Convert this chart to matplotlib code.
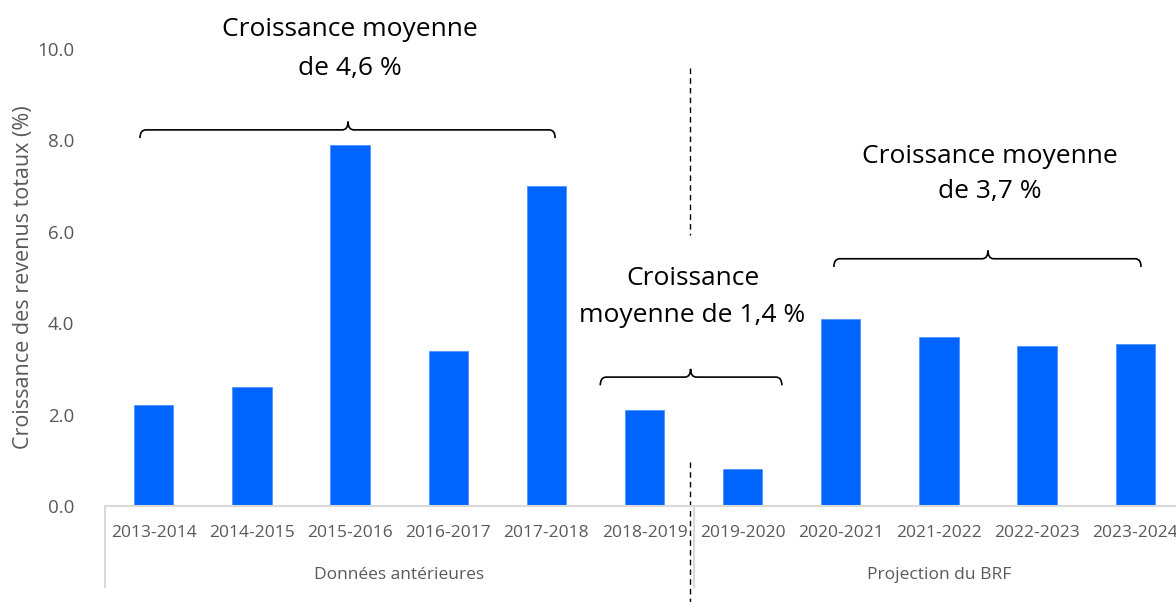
import numpy as np
import matplotlib.pyplot as plt
from matplotlib.path import Path
from matplotlib.patches import PathPatch

plt.rcParams['font.family'] = ['Open Sans', 'DejaVu Sans']

periods = ['2013-2014', '2014-2015', '2015-2016', '2016-2017', '2017-2018', '2018-2019',
           '2019-2020', '2020-2021', '2021-2022', '2022-2023', '2023-2024']
growth = [2.2, 2.6, 7.9, 3.4, 7.0, 2.1, 0.8, 4.1, 3.7, 3.5, 3.55]
groups = ['Données antérieures', 'Projection du BRF']
notes = ['Croissance moyenne\nde 4,6 %', 'Croissance\nmoyenne de 1,4 %', 'Croissance moyenne\nde 3,7 %']

grey = '#595959'
fig = plt.figure(figsize=(11.76, 6.02), dpi=100)
ax = fig.add_axes([0.089, 0.1595, 0.918, 0.7591])

x = np.arange(len(periods))
ax.bar(x, growth, 0.4, color='#0064FF', edgecolor='#4d94ff', linewidth=0.6, zorder=2)

ax.set_xlim(-0.5, 10.5)
ax.set_ylim(0, 10)
ax.set_yticks(np.arange(0, 10.1, 2))
ax.set_yticklabels(['%.1f' % v for v in np.arange(0, 10.1, 2)])
ax.set_xticks(x)
ax.set_xticklabels(periods)
ax.tick_params(axis='x', length=0, labelsize=12.5, labelcolor=grey, pad=14)
ax.tick_params(axis='y', length=0, labelsize=13.5, labelcolor=grey, pad=22)
for s in ['top', 'right', 'left']:
    ax.spines[s].set_visible(False)
ax.spines['bottom'].set_color('#d9d9d9')
ax.spines['bottom'].set_linewidth(1.5)
ax.set_ylabel('Croissance des revenus totaux (%)', fontsize=15.5, color=grey)
ax.yaxis.set_label_coords(-0.065, 0.5)

# group separators and labels
for xs in [-0.5, 5.5]:
    ax.plot([xs, xs], [0, -1.77], color='#d9d9d9', lw=1.5, clip_on=False)
ax.text(2.5, -1.51, groups[0], ha='center', va='center', fontsize=12.5, color=grey)
ax.text(8.0, -1.51, groups[1], ha='center', va='center', fontsize=12.5, color=grey)

# dashed divider
for y0, y1 in [(9.59, 5.92), (0.96, -2.1)]:
    ax.plot([5.46, 5.46], [y0, y1], color='black', lw=1, ls=(0, (4, 3)), clip_on=False)


def bracket(x0, x1, xc, y, h=0.18, r=0.06):
    verts = [(x0, y - h), (x0, y), (x0 + r, y), (xc - r, y), (xc, y), (xc, y + h),
             (xc, y), (xc + r, y), (x1 - r, y), (x1, y), (x1, y - h)]
    codes = [Path.MOVETO, Path.CURVE3, Path.CURVE3, Path.LINETO, Path.CURVE3, Path.CURVE3,
             Path.CURVE3, Path.CURVE3, Path.LINETO, Path.CURVE3, Path.CURVE3]
    ax.add_patch(PathPatch(Path(verts, codes), fill=False, lw=1.2, ec='black', clip_on=False))


bracket(-0.14, 4.09, 1.98, 8.23)
bracket(4.55, 6.40, 5.47, 2.82)
bracket(6.93, 10.06, 8.50, 5.41)

ax.text(2.0, 10.0, notes[0], ha='center', va='center', fontsize=19, linespacing=1.72, clip_on=False)
ax.text(5.49, 4.57, notes[1], ha='center', va='center', fontsize=19, linespacing=1.62)
ax.text(8.52, 7.26, notes[2], ha='center', va='center', fontsize=19, linespacing=1.55)

fig.savefig('out.png', dpi=100)
